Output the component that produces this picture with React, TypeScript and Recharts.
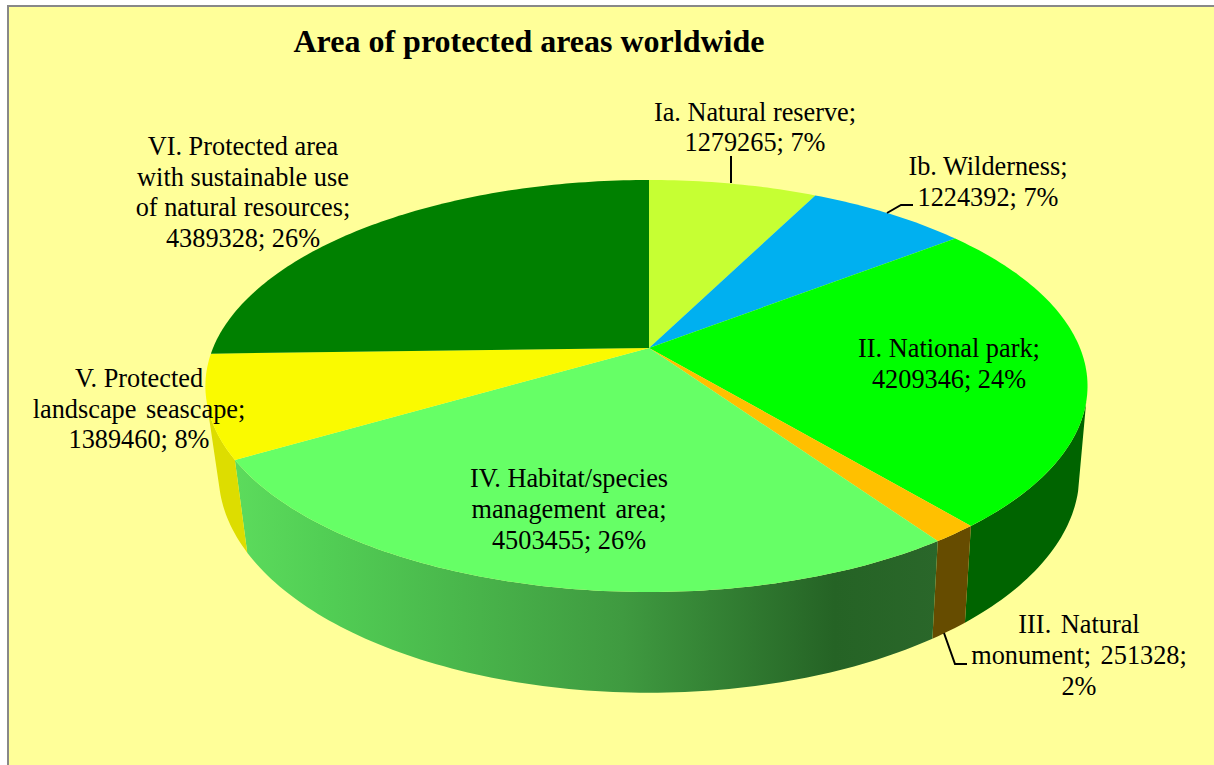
import React from 'react';
import { PieChart, Pie } from 'recharts';

const categories = [
  'Ia. Natural reserve',
  'Ib. Wilderness',
  'II. National park',
  'III. Natural monument',
  'IV. Habitat/species management area',
  'V. Protected landscape seascape',
  'VI. Protected area with sustainable use of natural resources',
];
const areas = [1279265, 1224392, 4209346, 251328, 4503455, 1389460, 4389328];
const topColors = ['#C6FF33', '#00B0F0', '#00FF00', '#FFC000', '#66FF66', '#FAFA00', '#008000'];
const wallColors = ['#8AB324', '#007BA8', '#006400', '#664C00', 'url(#wallIV)', '#DDDD00', '#005A00'];

const labelLines = [
  ['Ia. Natural reserve;', '1279265; 7%'],
  ['Ib. Wilderness;', '1224392; 7%'],
  ['II. National park;', '4209346; 24%'],
  ['III. Natural', 'monument; 251328;', '2%'],
  ['IV. Habitat/species', 'management area;', '4503455; 26%'],
  ['V. Protected', 'landscape seascape;', '1389460; 8%'],
  ['VI. Protected area', 'with sustainable use', 'of natural resources;', '4389328; 26%'],
];
// the justified looking lines have a wider space
const wideLines = ['monument; 251328;', 'management area;', 'landscape seascape;', 'III. Natural'];

// label layout: centre x, first baseline, line height
const labelX = [755, 988, 949, 1079, 569, 139, 243];
const labelY = [121, 175, 357, 633, 487, 387, 155];
const labelStep = [30, 31, 31, 31, 31, 30.5, 30.5];
const leaders: Record<number, string> = {
  0: '731,156 731,183',
  1: '887,213 901,205 913,205',
  3: '944,633 955,664 967,664',
};

const chartData = categories.map((name, i) => ({ name, value: areas[i] }));

// tilted disc: pie angle -> screen position under a perspective projection
const CX = 649;
const TOP = { a: 431, aLeft: 436, b: 199, cy: 348 };
const BOTTOM = { a: 423, aLeft: 423, b: 211, cy: 434 };
const K = 0.1845;

type Face = typeof TOP;

const project = (deg: number, f: Face) => {
  const t = (deg * Math.PI) / 180;
  const w = 1 + K * Math.cos(t);
  const a = deg > 180 ? f.aLeft : f.a;
  return [CX + (a * Math.sin(t)) / w, f.cy - (f.b * Math.cos(t)) / w];
};

const arcPoints = (from: number, to: number, f: Face) => {
  const n = Math.max(2, Math.ceil(Math.abs(to - from)));
  const pts: string[] = [];
  for (let i = 0; i <= n; i++) {
    const p = project(from + ((to - from) * i) / n, f);
    pts.push(`${p[0].toFixed(2)},${p[1].toFixed(2)}`);
  }
  return pts;
};

const TopFace = (props: any) => {
  const from = 90 - props.startAngle;
  const to = 90 - props.endAngle;
  const d = `M${CX},${TOP.cy} L${arcPoints(from, to, TOP).join(' L')} Z`;
  return <path d={d} fill={topColors[props.index]} />;
};

const WallFace = (props: any) => {
  // only the front of the rim can be seen
  const from = Math.max(90 - props.startAngle, 105);
  const to = Math.min(90 - props.endAngle, 255);
  if (to <= from) return <g />;
  const outer = arcPoints(from, to, TOP);
  const inner = arcPoints(to, from, BOTTOM);
  return <path d={`M${outer.concat(inner).join(' L')} Z`} fill={wallColors[props.index]} />;
};

const SliceLabel = (props: any) => {
  const i = props.index;
  return (
    <g>
      {leaders[i] && <polyline points={leaders[i]} fill="none" stroke="#000" strokeWidth={2} />}
      <text textAnchor="middle" fontFamily="Liberation Serif" fontSize={26.3} fill="#000">
        {labelLines[i].map((line, j) => (
          <tspan
            key={j}
            x={labelX[i]}
            y={labelY[i] + j * labelStep[i]}
            style={{ wordSpacing: wideLines.includes(line) ? 3 : 0 }}
          >
            {line}
          </tspan>
        ))}
      </text>
    </g>
  );
};

export default function App() {
  return (
    <div style={{ position: 'absolute', left: 0, top: 0, width: 1214, height: 765, background: '#fff', overflow: 'hidden' }}>
      <div
        style={{
          position: 'absolute',
          left: 7,
          top: 5,
          width: 1207,
          height: 760,
          boxSizing: 'border-box',
          background: '#FFFF99',
          borderLeft: '2px solid #888',
          borderTop: '2px solid #888',
        }}
      />
      <div style={{ position: 'absolute', left: 0, top: 0 }}>
        <PieChart width={1214} height={765} margin={{ top: 0, right: 0, bottom: 0, left: 0 }}>
          <defs>
            <linearGradient id="wallIV" gradientUnits="userSpaceOnUse" x1="236" y1="0" x2="940" y2="0">
              <stop offset="0" stopColor="#5CDB5C" />
              <stop offset="0.12" stopColor="#52CF55" />
              <stop offset="0.55" stopColor="#3F9A40" />
              <stop offset="0.85" stopColor="#256325" />
              <stop offset="1" stopColor="#2A672A" />
            </linearGradient>
          </defs>
          <Pie
            data={chartData}
            dataKey="value"
            nameKey="name"
            cx={CX}
            cy={TOP.cy}
            outerRadius={200}
            startAngle={90}
            endAngle={-270}
            stroke="none"
            shape={WallFace}
            isAnimationActive={false}
          />
          <Pie
            data={chartData}
            dataKey="value"
            nameKey="name"
            cx={CX}
            cy={TOP.cy}
            outerRadius={200}
            startAngle={90}
            endAngle={-270}
            stroke="none"
            shape={TopFace}
            label={SliceLabel}
            labelLine={false}
            isAnimationActive={false}
          />
          <text x={529} y={52} textAnchor="middle" fontFamily="Liberation Serif" fontSize={32} fontWeight="bold" fill="#000">
            Area of protected areas worldwide
          </text>
        </PieChart>
      </div>
    </div>
  );
}
